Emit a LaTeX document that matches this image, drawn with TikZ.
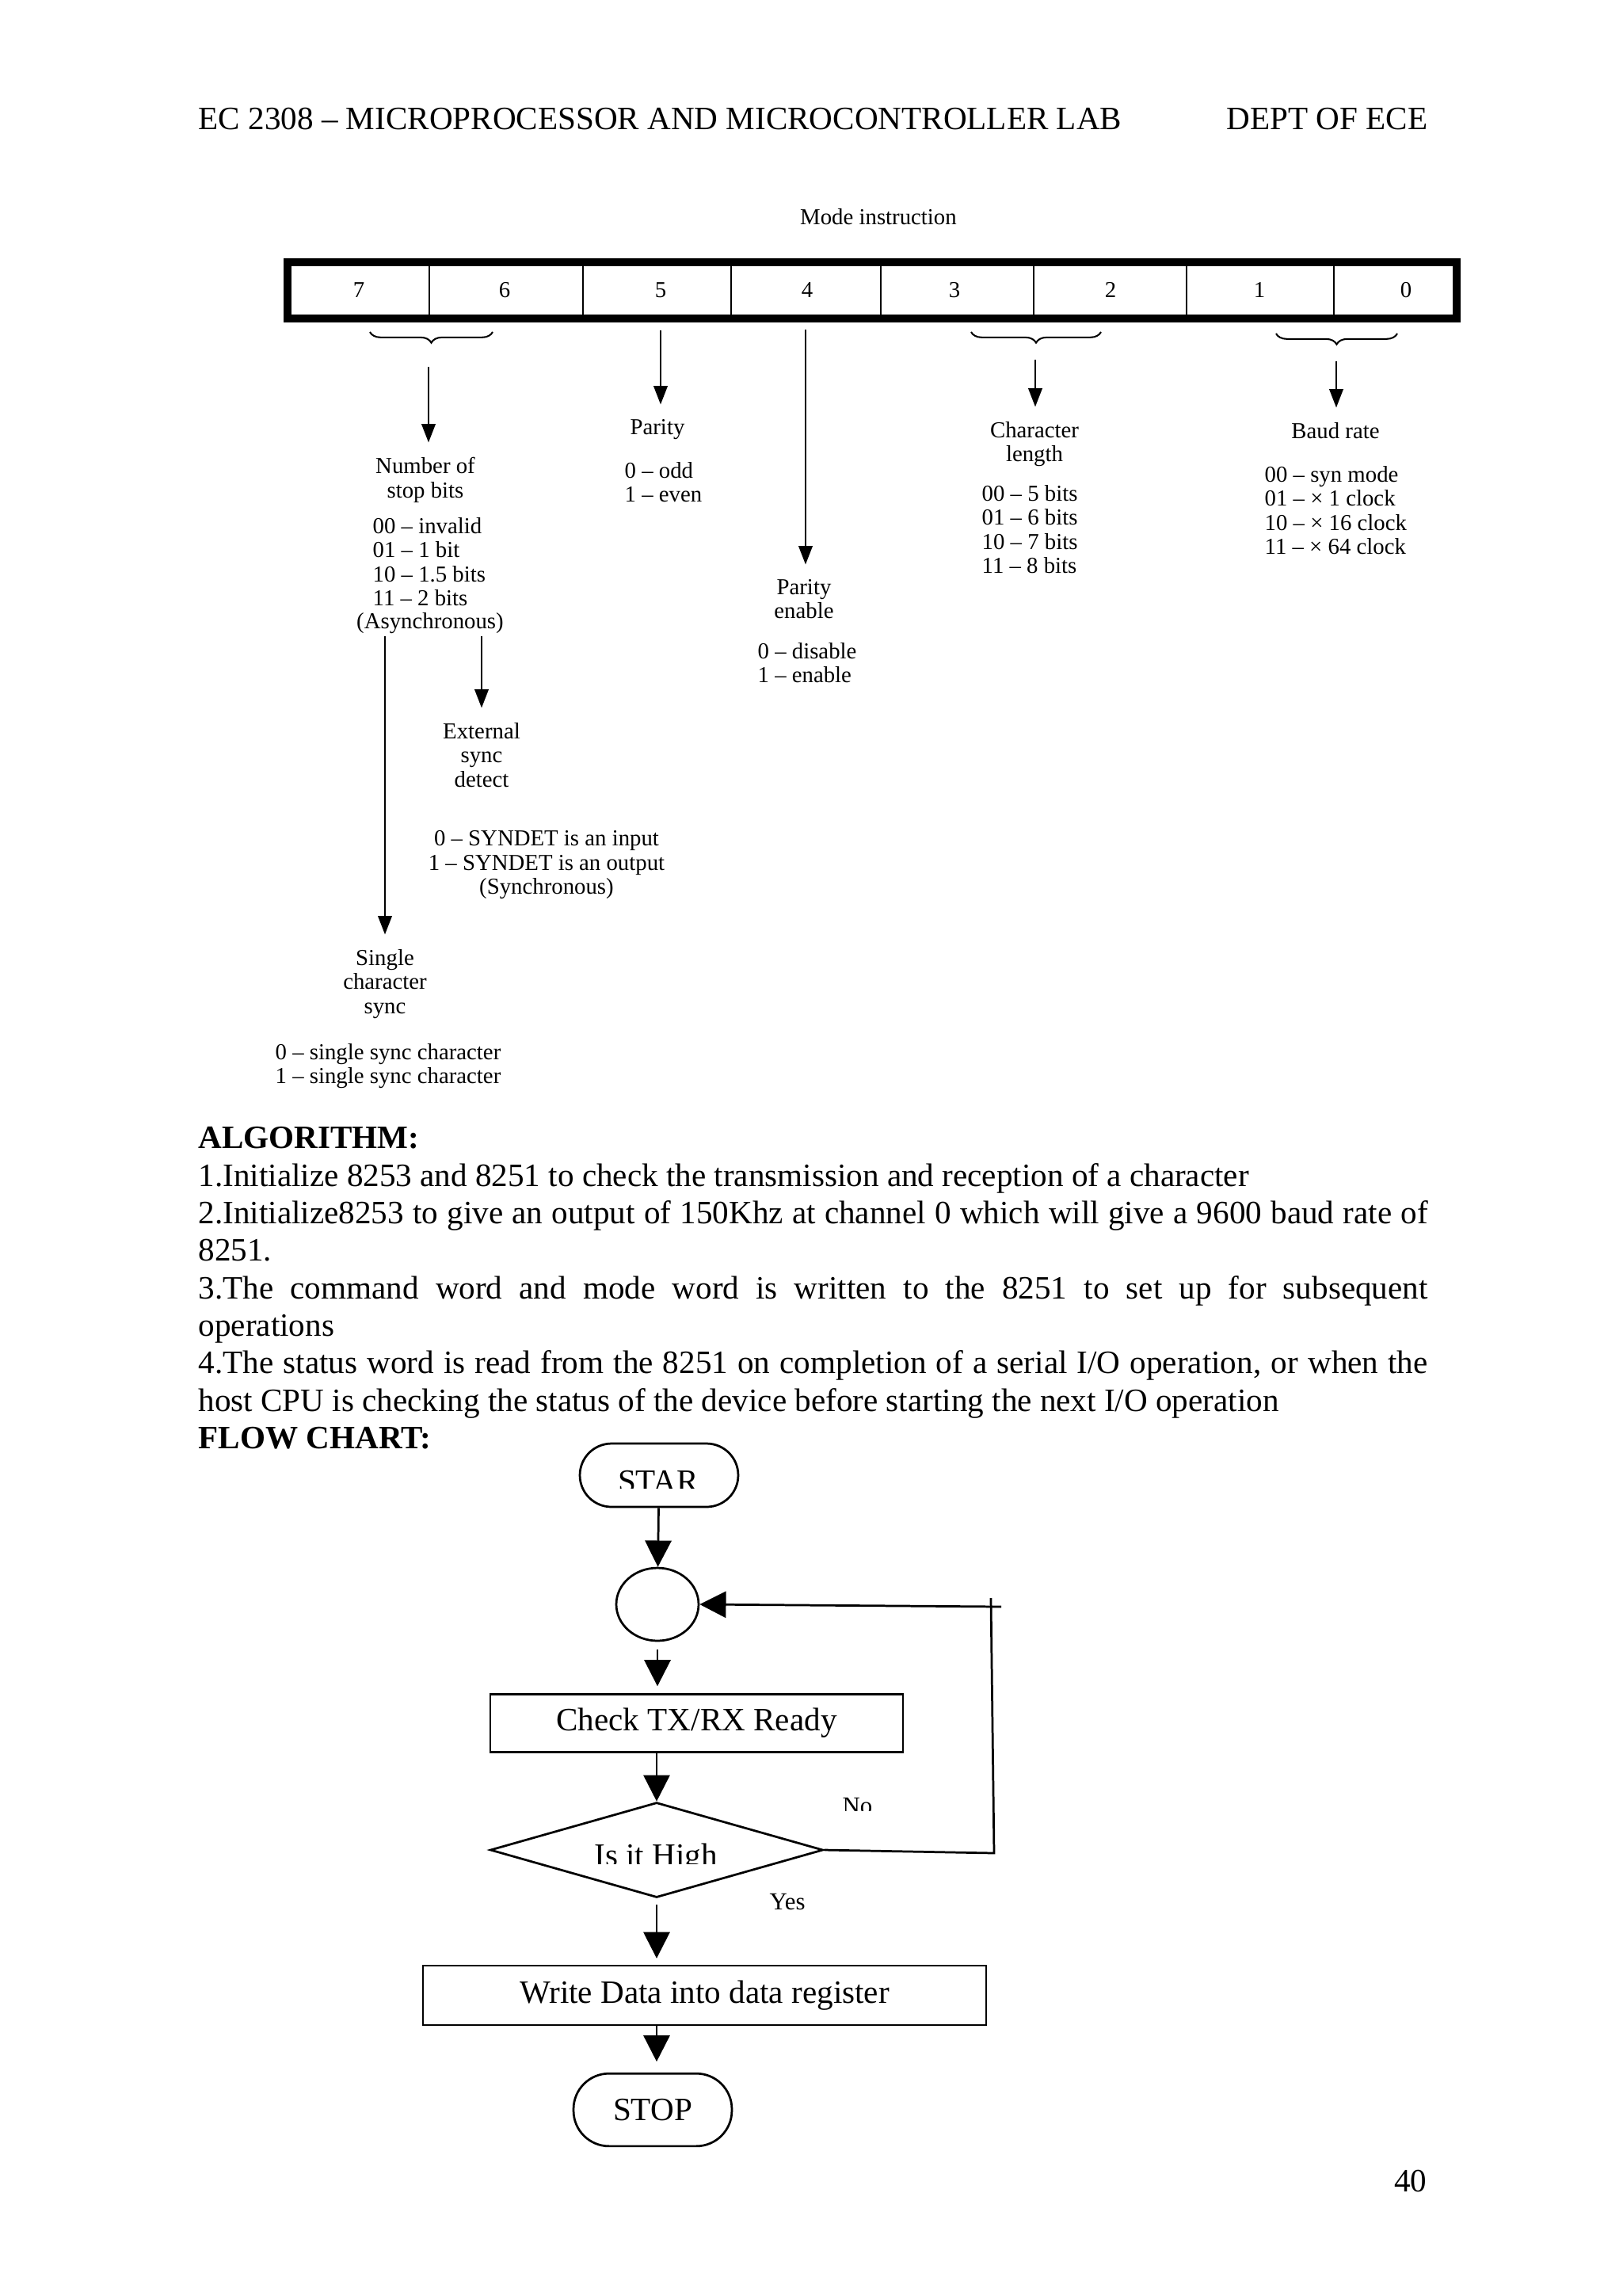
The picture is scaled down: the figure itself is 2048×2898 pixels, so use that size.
\documentclass[tikz,border=0pt]{standalone}
\usepackage{fontspec}
\setmainfont{Liberation Serif}
\usepackage{tikz}
\usetikzlibrary{positioning,arrows.meta,shapes.geometric,decorations.pathreplacing}
\setlength{\parindent}{0pt}

\begin{document}
\begin{tikzpicture}[
  x=0.010254cm, y=-0.010254cm,
  >=Latex,
  lbl/.style={inner sep=0pt, align=center, font=\fontsize{8.4}{8.8}\selectfont},
  vals/.style={inner sep=0pt, align=left, font=\fontsize{8.4}{8.8}\selectfont},
  arr/.style={line width=0.6pt, -{Triangle[length=2.4mm,width=1.8mm]}, shorten >=1.9mm},
  flow/.style={line width=0.8pt, -{Triangle[length=3.4mm,width=3.4mm]}},
  body/.style={inner sep=0pt, font=\fontsize{12}{13.8}\selectfont},
  term/.style={draw, line width=0.8pt, minimum width=2.05cm, inner sep=0pt, font=\fontsize{12}{13.8}\selectfont},
  proc/.style={draw, line width=0.8pt, inner sep=0pt, font=\fontsize{12}{13.8}\selectfont}
]
\fill[white] (0,0) rectangle (2048,2898);
\useasboundingbox (0,0) rectangle (2048,2898);

% page head
\node[body, anchor=base west] (hdr) at (250,163) {EC 2308 – MICROPROCESSOR AND MICROCONTROLLER LAB};
\node[body, anchor=base east] (dept) at (1803,163) {DEPT OF ECE};

% mode word
\node[lbl] (mode) at (1109,274) {Mode instruction};
\draw[line width=2.9pt] (363,331) rectangle (1839,402);
\foreach \x in {542,736,923,1112,1305,1498,1684}
  \draw[line width=0.8pt] (\x,335) -- (\x,398);
\node[lbl] (b7) at (453,366) {7};
\node[lbl] (b6) at (637,366) {6};
\node[lbl] (b5) at (834,366) {5};
\node[lbl] (b4) at (1019,366) {4};
\node[lbl] (b3) at (1205,366) {3};
\node[lbl] (b2) at (1402,366) {2};
\node[lbl] (b1) at (1590,366) {1};
\node[lbl] (b0) at (1775,366) {0};

\draw[line width=0.6pt, decorate, decoration={brace, mirror, amplitude=1.4mm}] (467,419) -- (622,419);
\draw[line width=0.6pt, decorate, decoration={brace, mirror, amplitude=1.4mm}] (1226,419) -- (1390,419);
\draw[line width=0.6pt, decorate, decoration={brace, mirror, amplitude=1.4mm}] (1611,421) -- (1764,421);

\coordinate (s76) at (541,463);
\coordinate (s5) at (834,417);
\coordinate (s4) at (1017,416);
\coordinate (s32) at (1307,454);
\coordinate (s10) at (1687,456);
\coordinate (sa) at (486,803);
\coordinate (sb) at (608,803);

\node[lbl, anchor=north] (nstop) at (537,577) {Number of\\stop bits};
\node[vals, anchor=north west] (nstopv) at (470,653) {00 – invalid\\01 – 1 bit\\10 – 1.5 bits\\11 – 2 bits};
\node[lbl] (async) at (543,787) {(Asynchronous)};
\node[lbl, anchor=north] (par) at (830,529) {Parity};
\node[vals, anchor=north west] (parv) at (788,583) {0 – odd\\1 – even};
\node[lbl, anchor=north] (pen) at (1015,731) {Parity\\enable};
\node[vals, anchor=north west] (penv) at (956,811) {0 – disable\\1 – enable};
\node[lbl, anchor=north] (chl) at (1306,532) {Character\\length};
\node[vals, anchor=north west] (chlv) at (1239,612) {00 – 5 bits\\01 – 6 bits\\10 – 7 bits\\11 – 8 bits};
\node[lbl, anchor=north] (baud) at (1686,533) {Baud rate};
\node[vals, anchor=north west] (baudv) at (1596,588) {00 – syn mode\\01 – × 1 clock\\10 – × 16 clock\\11 – × 64 clock};
\node[lbl, anchor=north] (ext) at (608,912) {External\\sync\\detect};
\node[lbl, anchor=north] (extv) at (690,1048) {0 – SYNDET is an input\\1 – SYNDET is an output\\(Synchronous)};
\node[lbl, anchor=north] (sng) at (486,1198) {Single\\character\\sync};
\node[lbl, anchor=north] (sngv) at (490,1317) {0 – single sync character\\1 – single sync character};

\draw[arr] (s76) -- (s76 |- nstop.north);
\draw[arr] (s5) -- (s5 |- par.north);
\draw[arr] (s4) -- (s4 |- pen.north);
\draw[arr] (s32) -- (s32 |- chl.north);
\draw[arr] (s10) -- (s10 |- baud.north);
\draw[arr] (sa) -- (sa |- sng.north);
\draw[arr] (sb) -- (sb |- ext.north);

% algorithm text
\node[body, anchor=north west, text width=15.914cm, align=justify] (alg) at (250,1422) {\textbf{ALGORITHM:}\\
1.Initialize 8253 and 8251 to check the transmission and reception of a character\\
2.Initialize8253 to give an output of 150Khz at channel 0 which will give a 9600 baud rate of\linebreak
8251.\\
3.The command word and mode word is written to the 8251 to set up for subsequent\linebreak
operations\\
4.The status word is read from the 8251 on completion of a serial I/O operation, or when the\linebreak
host CPU is checking the status of the device before starting the next I/O operation\\
\textbf{FLOW CHART:}};

% flow chart
\node[term, minimum height=0.82cm, rounded corners=4.1mm] (start) at (832,1862) {};
\begin{scope}
  \clip (740,1840) rectangle (920,1878);
  \node[body, anchor=base] (startl) at (831,1883) {STAR};
\end{scope}
\node[draw, ellipse, line width=0.8pt, minimum width=1.066cm, minimum height=0.943cm, inner sep=0pt] (join) at (830,2025) {};
\node[proc, minimum width=5.34cm, minimum height=0.75cm] (chk) at (879.5,2175) {Check TX/RX Ready};
\node[draw, diamond, line width=0.8pt, minimum width=4.31cm, minimum height=1.23cm, inner sep=0pt] (dec) at (829,2335) {};
\begin{scope}
  \clip (600,2290) rectangle (1060,2352);
  \node[body, anchor=base] (decl) at (828,2355) {Is it High};
\end{scope}
\node[proc, minimum width=7.29cm, minimum height=0.77cm] (wr) at (889.5,2518.5) {Write Data into data register};
\node[term, minimum height=0.94cm, rounded corners=4.6mm] (stopn) at (824,2663) {STOP};

\begin{scope}
  \clip (1050,2255) rectangle (1110,2285);
  \node[anchor=base west, inner sep=0pt, font=\fontsize{9}{10}\selectfont] (no) at (1063,2289) {No};
\end{scope}
\node[anchor=base west, inner sep=0pt, font=\fontsize{9}{10}\selectfont] (yes) at (971,2410) {Yes};

\draw[flow] (start) -- (join);
\draw[flow, shorten <=1mm, shorten >=0.9mm] (join.south) -- (join.south |- chk.north);
\draw[flow] (dec.north |- chk.south) -- (dec.north);
\draw[flow, shorten <=0.8mm, shorten >=0.8mm] (dec.south) -- (dec.south |- wr.north);
\draw[flow, shorten >=1.4mm] (dec.south |- wr.south) -- (dec.south |- stopn.north);

\coordinate (nr) at (1255,2339);
\coordinate (nt) at (1251,2017);
\coordinate (nh) at (1264,2028);
\draw[line width=0.8pt] (dec.east) -- (nr) -- (nt);
\draw[flow] (nh) -- (join.east);

\node[body, anchor=base east] (pg) at (1802,2766) {40};
\end{tikzpicture}
\end{document}
